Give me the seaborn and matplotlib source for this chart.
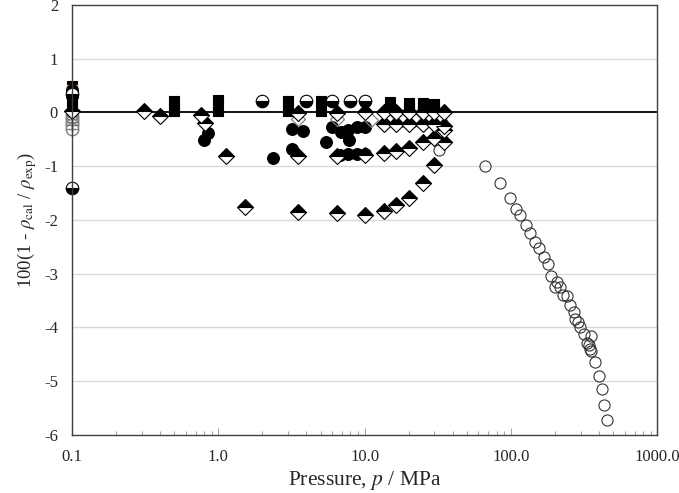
import matplotlib
matplotlib.use("Agg")
import matplotlib.pyplot as plt
import seaborn as sns
import numpy as np
from matplotlib.ticker import LogLocator, FixedLocator, NullFormatter

# ---------------- data ----------------
# open circles (high pressure)
p_open = [66.7, 84.4, 97.8, 107.5, 115.7, 126.6, 135.5, 146.5, 155.3, 167, 177.8, 188.5,
          206, 198.6, 217, 226.5, 241.4, 254, 267.9, 274.9, 287, 294.4, 313.4, 353.8,
          330.6, 339, 344.5, 352, 374.8, 399, 415.9, 434.3, 453, 32]
d_open = [-1.00, -1.31, -1.60, -1.79, -1.91, -2.10, -2.25, -2.42, -2.53, -2.70, -2.82, -3.05,
          -3.15, -3.24, -3.24, -3.39, -3.41, -3.59, -3.71, -3.85, -3.90, -4.00, -4.13, -4.17,
          -4.29, -4.33, -4.41, -4.44, -4.64, -4.90, -5.15, -5.45, -5.72, -0.70]

# half-filled diamonds (top black)
p_dia = [0.1, 0.31, 0.40, 0.76, 0.81, 1.12, 1.52,
         3.5, 6.5, 10, 13.5, 16.5, 20, 25, 30, 35,
         3.5, 6.5, 10, 13.5, 16.5, 20, 25, 30, 35,
         3.5, 6.5, 10, 13.5, 16.5, 20, 25, 30, 35,
         13.5, 16.5, 20, 25, 30, 35]
d_dia = [0.02, 0.02, -0.07, -0.04, -0.19, -0.81, -1.76,
         -1.85, -1.88, -1.90, -1.83, -1.73, -1.59, -1.32, -0.97, -0.56,
         -0.81, -0.81, -0.80, -0.75, -0.71, -0.66, -0.56, -0.47, -0.32,
         -0.01, -0.01, 0.0, 0.0, 0.0, 0.0, 0.0, 0.0, 0.0,
         -0.22, -0.22, -0.22, -0.22, -0.22, -0.26]

# grey open diamonds
p_gdia = [3.5, 6.5, 11, 14.5, 18, 22, 27, 33]
d_gdia = [-0.13, -0.13, -0.14, -0.14, -0.14, -0.14, -0.14, -0.15]

# filled circles
p_fc = [0.80, 0.855, 2.36, 3.18, 3.18, 3.78, 5.43, 5.97, 6.88, 7.75, 7.87, 8.85, 10.07,
        6.8, 7.75, 8.85, 10.07, 0.1, 0.1]
d_fc = [-0.51, -0.38, -0.85, -0.30, -0.69, -0.35, -0.55, -0.28, -0.37, -0.33, -0.52, -0.28, -0.28,
        -0.80, -0.78, -0.78, -0.78, 0.30, 0.42]

# half-filled circles (bottom black)
p_hc = [0.1, 2.0, 4.0, 6.0, 8.0, 10.0, 0.1]
d_hc = [-1.40, 0.21, 0.21, 0.21, 0.21, 0.21, 0.35]

# filled squares
p_sq = [0.1, 0.1, 0.1, 0.5, 0.5, 1.0, 1.0, 3.0, 3.0, 5.0, 5.0, 15, 15, 20, 20, 25, 25, 30, 30]
d_sq = [0.20, 0.35, 0.50, 0.22, 0.03, 0.23, 0.02, 0.22, 0.03, 0.22, 0.03,
        0.20, 0.09, 0.18, 0.08, 0.18, 0.08, 0.16, 0.07]

# grey circled plus at 0.1 MPa
p_gc = [0.1, 0.1, 0.1, 0.1, 0.1]
d_gc = [-0.06, -0.12, -0.18, -0.24, -0.30]

# orange open square
p_os = [0.1]
d_os = [0.41]

x_ticks = [0.1, 1.0, 10.0, 100.0, 1000.0]
x_tick_labels = ["0.1", "1.0", "10.0", "100.0", "1000.0"]
y_ticks = [2, 1, 0, -1, -2, -3, -4, -5, -6]
y_tick_labels = ["2", "1", "0", "-1", "-2", "-3", "-4", "-5", "-6"]

# ---------------- style ----------------
sns.set_theme(style="white")
plt.rcParams["font.family"] = ["Liberation Serif", "DejaVu Serif"]
plt.rcParams["mathtext.fontset"] = "stix"

fig = plt.figure(figsize=(6.79, 4.93), dpi=100)
ax = fig.add_axes([0.106, 0.118, 0.862, 0.872])

ax.set_xscale("log")
ax.set_xlim(0.1, 1000)
ax.set_ylim(-6, 2)

for yv in y_ticks:
    if yv not in (0, 2, -6):
        ax.axhline(yv, color="#d9d9d9", lw=1.0, zorder=0)
ax.axhline(0, color="black", lw=1.3, zorder=1)

common = dict(estimator=None, sort=False, linestyle="", ax=ax, legend=False, clip_on=False)

# open circles
sns.lineplot(x=p_open, y=d_open, marker="o", markersize=8, color="black",
             markerfacecolor="none", markeredgecolor="#333333", markeredgewidth=0.8, **common)

# grey circled plus
sns.lineplot(x=p_gc, y=d_gc, marker="o", markersize=9, color="#7f7f7f",
             markerfacecolor="white", markeredgecolor="#7f7f7f", markeredgewidth=1.0, **common)
sns.lineplot(x=p_gc, y=d_gc, marker="+", markersize=9, color="#7f7f7f",
             markeredgecolor="#7f7f7f", markeredgewidth=1.0, **common)

# filled squares
sns.lineplot(x=p_sq, y=d_sq, marker="s", markersize=7, color="black",
             markerfacecolor="black", markeredgecolor="black", markeredgewidth=0.8, **common)

# orange open square
sns.lineplot(x=p_os, y=d_os, marker="s", markersize=7, color="#f4b183",
             markerfacecolor="none", markeredgecolor="#f4b183", markeredgewidth=1.0, **common)

# filled circles
sns.lineplot(x=p_fc, y=d_fc, marker="o", markersize=8.5, color="black",
             markerfacecolor="black", markeredgecolor="black", markeredgewidth=0.8, **common)

# half-filled circles
sns.lineplot(x=p_hc, y=d_hc, marker="o", markersize=9, color="black",
             fillstyle="bottom", markerfacecolor="black", markerfacecoloralt="white",
             markeredgecolor="black", markeredgewidth=0.8, **common)

# grey open diamonds
sns.lineplot(x=p_gdia, y=d_gdia, marker="D", markersize=7.5, color="#808080",
             markerfacecolor="none", markeredgecolor="#808080", markeredgewidth=0.9, **common)

# half-filled diamonds
sns.lineplot(x=p_dia, y=d_dia, marker="D", markersize=8.3, color="black",
             fillstyle="top", markerfacecolor="black", markerfacecoloralt="white",
             markeredgecolor="black", markeredgewidth=0.8, **common)

# ---------------- axes ----------------
ax.xaxis.set_major_locator(FixedLocator(x_ticks))
ax.set_xticklabels(x_tick_labels)
ax.xaxis.set_minor_locator(LogLocator(base=10, subs=np.arange(2, 10)))
ax.xaxis.set_minor_formatter(NullFormatter())
ax.set_yticks(y_ticks)
ax.set_yticklabels(y_tick_labels)

ax.tick_params(axis="x", which="major", direction="in", length=5, width=0.8,
               color="#a6a6a6", labelsize=12, pad=10, top=False, bottom=True)
ax.tick_params(axis="x", which="minor", direction="in", length=3, width=0.8,
               color="#a6a6a6", top=False, bottom=True)
ax.tick_params(axis="y", which="both", length=0, labelsize=12, pad=10)

for s in ax.spines.values():
    s.set_visible(True)
    s.set_color("#404040")
    s.set_linewidth(1.0)

ax.set_xlabel("Pressure, $p$ / MPa", fontsize=15.5, labelpad=3)
ax.set_ylabel(r"100(1 - $\rho_{\rm cal}$ / $\rho_{\rm exp}$)", fontsize=13.5, labelpad=4)
ax.grid(False)

fig.savefig("out.png", dpi=100, facecolor="white")
